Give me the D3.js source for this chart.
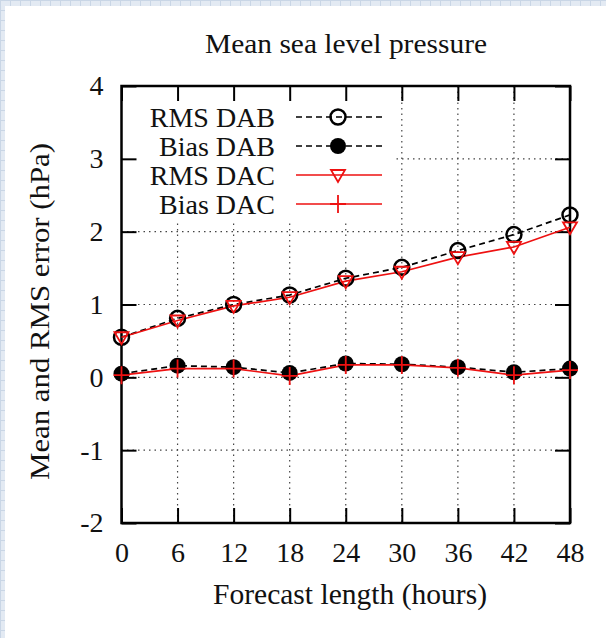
<!DOCTYPE html>
<html><head><meta charset="utf-8">
<script src="https://cdn.jsdelivr.net/npm/d3@7"></script>
<style>
html,body{margin:0;padding:0;background:#fff;}
svg{display:block;}
text{font-family:"Liberation Serif","Times New Roman",serif;fill:#111;}
</style></head>
<body>
<script>
const hours = [0, 6, 12, 18, 24, 30, 36, 42, 48];
const rmsDAB = [0.55, 0.81, 1.00, 1.13, 1.36, 1.51, 1.74, 1.96, 2.23];
const biasDAB = [0.05, 0.16, 0.14, 0.06, 0.19, 0.18, 0.14, 0.07, 0.12];
const rmsDAC = [0.55, 0.78, 0.98, 1.10, 1.32, 1.45, 1.65, 1.79, 2.06];
const biasDAC = [0.03, 0.12, 0.12, 0.02, 0.17, 0.17, 0.13, 0.03, 0.10];
const yTicks = [-2, -1, 0, 1, 2, 3, 4];
const seriesNames = ["RMS DAB", "Bias DAB", "RMS DAC", "Bias DAC"];

const W = 606, H = 638;
const svg = d3.select("body").append("svg").attr("width", W).attr("height", H);

// page background pattern strips
const defs = svg.append("defs");
const pat = defs.append("pattern").attr("id","bgpat").attr("width",10).attr("height",10).attr("patternUnits","userSpaceOnUse");
pat.append("rect").attr("width",10).attr("height",10).attr("fill","#e3eaf3");
pat.append("path").attr("d","M0,0.5H10M0.5,0V10").attr("stroke","#c9d6e6").attr("stroke-width",1);
svg.append("rect").attr("width",W).attr("height",H).attr("fill","url(#bgpat)");
svg.append("rect").attr("x",5).attr("y",6).attr("width",W-5).attr("height",H-6).attr("fill","#fff");

const L = 121.5, R = 570, T = 86, B = 523;
const x = d3.scaleLinear().domain([0,48]).range([L,R]);
const y = d3.scaleLinear().domain([-2,4]).range([B,T]);

const g = svg.append("g");

// grid
g.append("g").selectAll("line").data(hours.slice(1,-1)).join("line")
  .attr("x1",d=>x(d)).attr("x2",d=>x(d)).attr("y1",T).attr("y2",B)
  .attr("stroke","#444").attr("stroke-width",1.2).attr("stroke-dasharray","1.5,4");
g.append("g").selectAll("line").data(yTicks.slice(1,-1)).join("line")
  .attr("x1",L).attr("x2",R).attr("y1",d=>y(d)).attr("y2",d=>y(d))
  .attr("stroke","#444").attr("stroke-width",1.2).attr("stroke-dasharray","1.5,4");

// legend box (opaque)
g.append("rect").attr("x",L+1).attr("y",T+1).attr("width",272).attr("height",134).attr("fill","#fff");

// axes with ticks inward
const tl = 15;
const axB = d3.axisBottom(x).tickValues(hours).tickSize(-tl).tickPadding(19).tickFormat(d3.format("d"));
const axL = d3.axisLeft(y).tickValues(yTicks).tickSize(-tl).tickPadding(18).tickFormat(d=>d);
const axT = d3.axisTop(x).tickValues(hours).tickSize(-tl).tickFormat("");
const axR = d3.axisRight(y).tickValues(yTicks).tickSize(-tl).tickFormat("");
function styleAx(sel){
  sel.select(".domain").remove();
  sel.selectAll(".tick line").attr("stroke","#000").attr("stroke-width",2);
  sel.selectAll(".tick text").style("font-family","'Liberation Serif',serif").style("font-size","28px").attr("fill","#111");
}
g.append("g").attr("transform",`translate(0,${B})`).call(axB).call(styleAx);
g.append("g").attr("transform",`translate(${L},0)`).call(axL).call(styleAx);
g.append("g").attr("transform",`translate(0,${T})`).call(axT).call(styleAx);
g.append("g").attr("transform",`translate(${R},0)`).call(axR).call(styleAx);

// frame
g.append("rect").attr("x",L).attr("y",T).attr("width",R-L).attr("height",B-T)
  .attr("fill","none").attr("stroke","#000").attr("stroke-width",2.5);

// series
const line = d3.line().x(d=>x(d[0])).y(d=>y(d[1]));
const zip = arr => hours.map((h,i)=>[h,arr[i]]);
const series = [
  {name:seriesNames[0], data:zip(rmsDAB), color:"#000", dash:"6,4", marker:"ocircle"},
  {name:seriesNames[1], data:zip(biasDAB), color:"#000", dash:"6,4", marker:"fcircle"},
  {name:seriesNames[2], data:zip(rmsDAC), color:"#ee1111", dash:null, marker:"tri"},
  {name:seriesNames[3], data:zip(biasDAC), color:"#ee1111", dash:null, marker:"plus"}
];
function drawMarker(sel, m, color){
  if(m==="ocircle") sel.append("circle").attr("r",7.5).attr("fill","none").attr("stroke",color).attr("stroke-width",2.5);
  else if(m==="fcircle") sel.append("circle").attr("r",8).attr("fill",color);
  else if(m==="tri") sel.append("path").attr("d","M-7,-5L7,-5L0,7Z").attr("fill","none").attr("stroke",color).attr("stroke-width",1.8);
  else if(m==="plus") sel.append("path").attr("d","M-8,0H8M0,-9V9").attr("stroke",color).attr("stroke-width",1.8);
}
series.forEach(s=>{
  g.append("path").datum(s.data).attr("d",line).attr("fill","none")
    .attr("stroke",s.color).attr("stroke-width",1.7).attr("stroke-dasharray",s.dash);
});
series.forEach(s=>{
  s.data.forEach(d=>{
    const mg = g.append("g").attr("transform",`translate(${x(d[0])},${y(d[1])})`);
    drawMarker(mg, s.marker, s.color);
  });
});

// legend
const leg = g.append("g");
series.forEach((s,i)=>{
  const yy = 117 + i*29;
  leg.append("text").attr("x",275).attr("y",yy).attr("dy","0.35em").attr("text-anchor","end")
    .style("font-size","28px").text(s.name);
  leg.append("line").attr("x1",296).attr("x2",382).attr("y1",yy).attr("y2",yy)
    .attr("stroke",s.color).attr("stroke-width",1.7).attr("stroke-dasharray",s.dash);
  const mg = leg.append("g").attr("transform",`translate(338,${yy})`);
  drawMarker(mg, s.marker, s.color);
});

// titles
svg.append("text").attr("x",346).attr("y",53).attr("text-anchor","middle").style("font-size","27px")
  .attr("textLength",282).attr("lengthAdjust","spacingAndGlyphs").text("Mean sea level pressure");
svg.append("text").attr("x",350).attr("y",604).attr("text-anchor","middle").style("font-size","30px")
  .attr("textLength",274).attr("lengthAdjust","spacingAndGlyphs").text("Forecast length (hours)");
svg.append("text").attr("transform","translate(49,311.5) rotate(-90)").attr("text-anchor","middle").style("font-size","28px")
  .attr("textLength",337).attr("lengthAdjust","spacingAndGlyphs").text("Mean and RMS error (hPa)");
</script>
</body></html>
